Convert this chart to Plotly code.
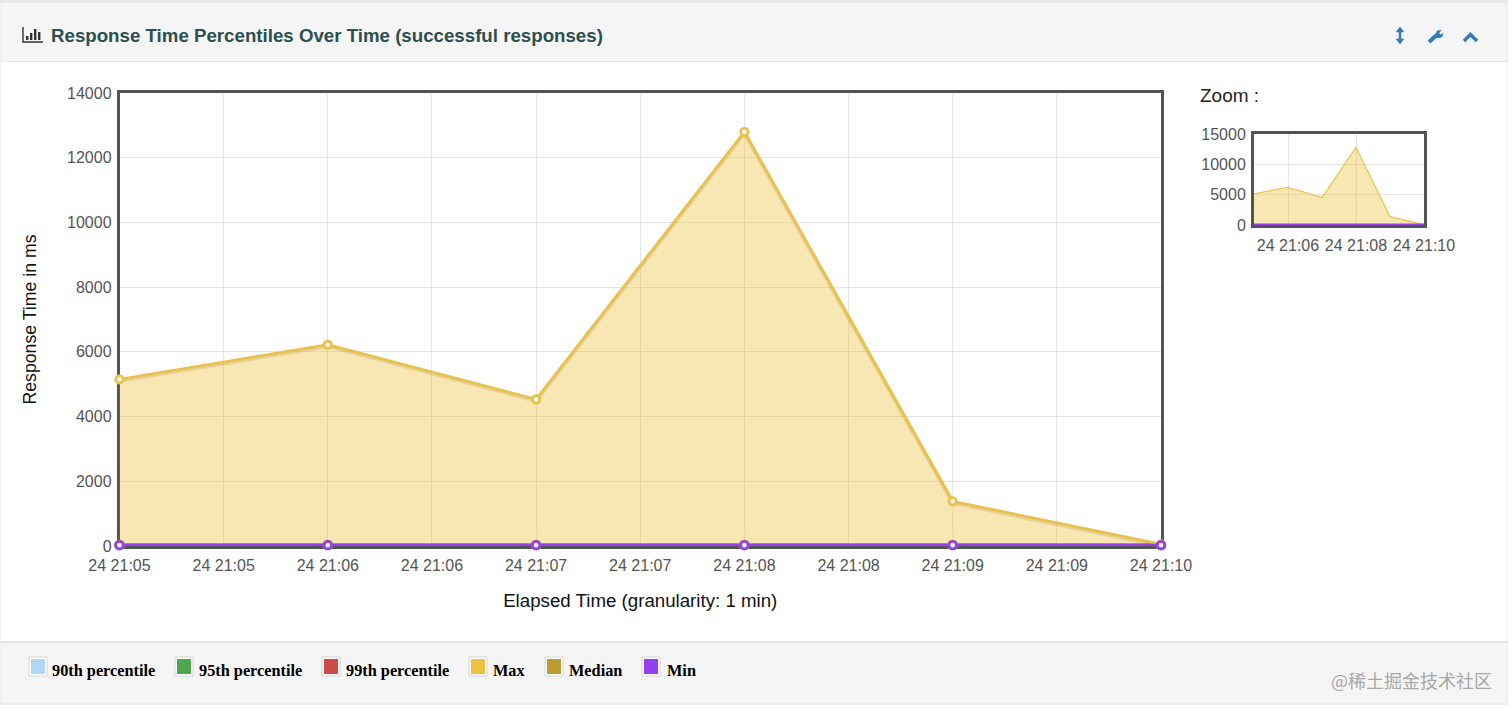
import plotly.graph_objects as go

W, H = 1512, 710

times = ["2020-01-24 21:05:00", "2020-01-24 21:06:00", "2020-01-24 21:07:00",
         "2020-01-24 21:08:00", "2020-01-24 21:09:00", "2020-01-24 21:10:00"]
p90 = [30, 32, 30, 31, 30, 28]
p95 = [32, 34, 32, 33, 32, 30]
p99 = [34, 36, 34, 35, 33, 32]
maximum = [5150, 6220, 4530, 12800, 1380, 50]
median = [28, 29, 28, 28, 28, 27]
minimum = [25, 25, 25, 25, 25, 25]

series_names = ["90th percentile", "95th percentile", "99th percentile", "Max", "Median", "Min"]
series_values = [p90, p95, p99, maximum, median, minimum]
series_colors = ["#afd8f8", "#4da74d", "#cb4b4b", "#e9c24e", "#bd9b33", "#9440ed"]
swatch_colors = ["#afd8f8", "#4da74d", "#cb4b4b", "#edc240", "#bd9b33", "#9440ed"]
series_fills = ["rgba(175,216,248,0.4)", "rgba(77,167,77,0.4)", "rgba(203,75,75,0.4)",
                "rgba(237,194,64,0.4)", "rgba(189,155,51,0.4)", "rgba(148,64,237,0.4)"]

main_tick_times = ["2020-01-24 21:05:00", "2020-01-24 21:05:30", "2020-01-24 21:06:00",
                   "2020-01-24 21:06:30", "2020-01-24 21:07:00", "2020-01-24 21:07:30",
                   "2020-01-24 21:08:00", "2020-01-24 21:08:30", "2020-01-24 21:09:00",
                   "2020-01-24 21:09:30", "2020-01-24 21:10:00"]
main_tick_text = ["24 21:05", "24 21:05", "24 21:06", "24 21:06", "24 21:07", "24 21:07",
                  "24 21:08", "24 21:08", "24 21:09", "24 21:09", "24 21:10"]
mini_tick_times = ["2020-01-24 21:06:00", "2020-01-24 21:08:00", "2020-01-24 21:10:00"]
mini_tick_text = ["24 21:06", "24 21:08", "24 21:10"]
main_y_ticks = [0, 2000, 4000, 6000, 8000, 10000, 12000, 14000]
mini_y_ticks = [0, 5000, 10000, 15000]

FONT = "Liberation Sans"
AXIS = "#545454"
GRID = "rgba(84,84,84,0.16)"


def px(x):
    return x / W


def py(y):
    return 1 - y / H


def rect(x0, y0, x1, y1, fill, line=None, width=1, layer="below"):
    return dict(type="rect", xref="paper", yref="paper", x0=px(x0), x1=px(x1), y0=py(y0), y1=py(y1),
                fillcolor=fill, line=dict(color=line or fill, width=width if line else 0), layer=layer)


def path(points, color, width=2, fill=None, close=False):
    d = "M " + " L ".join(f"{px(a):.5f},{py(b):.5f}" for a, b in points) + (" Z" if close else "")
    return dict(type="path", xref="paper", yref="paper", path=d,
                line=dict(color=color, width=width), fillcolor=fill or "rgba(0,0,0,0)", layer="above")


fig = go.Figure()

for name, vals, color, fill in zip(series_names, series_values, series_colors, series_fills):
    # soft shadow below each line, as the original library draws it
    fig.add_trace(go.Scatter(
        x=times, y=[v - 45 for v in vals], mode="lines", xaxis="x", yaxis="y",
        line=dict(color="rgba(0,0,0,0.13)", width=4), hoverinfo="skip", showlegend=False))
    fig.add_trace(go.Scatter(
        x=times, y=vals, name=name, mode="lines+markers", xaxis="x", yaxis="y",
        line=dict(color=color, width=3), fill="tozeroy", fillcolor=fill,
        marker=dict(size=7.5, color="rgba(255,255,255,0.9)", line=dict(color=color, width=2.8)),
        cliponaxis=False, showlegend=False))

for name, vals, color, fill in zip(series_names, series_values, series_colors, series_fills):
    fig.add_trace(go.Scatter(
        x=times, y=vals, name=name, mode="lines", xaxis="x2", yaxis="y2",
        line=dict(color=color, width=2.5 if name == "Min" else 1.2), fill="tozeroy", fillcolor=fill,
        hoverinfo="skip", showlegend=False))

shapes = [
    rect(0, 0, 1508, 704, "#ffffff", "#dddddd", 1),
    rect(1, 3, 1507, 61, "#f5f5f5"),
    rect(1, 642, 1507, 703, "#f5f5f5"),
    rect(1, 61, 1507, 62, "#e6e6e6"),
    rect(1, 641, 1507, 643, "#e3e3e3"),
    rect(0, 0, 1512, 3, "#e8e8e8"),
    rect(1508, 0, 1512, 710, "#ffffff"),
]

# Header chart icon
shapes.append(path([(23, 27), (23, 42), (43, 42)], "#333333", 1.4))
for bx, top in [(26, 36), (30, 33), (34, 29), (38, 32)]:
    shapes.append(rect(bx, top, bx + 2.4, 40, "#333333", layer="above"))

# Header tool icons
BLUE = "#337ab7"
shapes.append(path([(1400, 31), (1400, 41)], BLUE, 2.5))
shapes.append(path([(1396, 32), (1400, 27), (1404, 32)], BLUE, 0.5, BLUE, True))
shapes.append(path([(1396, 39), (1400, 44), (1404, 39)], BLUE, 0.5, BLUE, True))
shapes.append(path([(1429, 42), (1438, 34)], BLUE, 4))
shapes.append(path([(1436, 36), (1437, 31), (1441, 30), (1439, 33), (1441, 35), (1443, 33), (1442, 37), (1438, 38)],
                   BLUE, 0.5, BLUE, True))
shapes.append(path([(1464, 41), (1470.5, 34.5), (1477, 41)], BLUE, 3.4))

annotations = [
    dict(text="Zoom :", x=px(1198), y=py(95.5), xref="paper", yref="paper", xanchor="left", yanchor="middle",
         showarrow=False, font=dict(family=FONT, size=19, color="#222222")),
    dict(text="@稀土掘金技术社区", x=px(1329), y=py(680), xref="paper", yref="paper", xanchor="left",
         yanchor="middle", showarrow=False, font=dict(family="Noto Sans CJK SC", size=18, color="#a8a8a8")),
]

# Legend row
swatch_left = [29, 175, 322, 469, 545, 642]
label_left = [50, 197, 344, 491, 567, 665]
for name, color, sx, lx in zip(series_names, swatch_colors, swatch_left, label_left):
    shapes.append(rect(sx, 657, sx + 18, 676, "#ffffff", "#d4d4d4", 1))
    shapes.append(rect(sx + 2, 659, sx + 16, 674, color))
    annotations.append(dict(text=f"<b>{name}</b>", x=px(lx), y=py(670), xref="paper", yref="paper",
                            xanchor="left", yanchor="middle", showarrow=False,
                            font=dict(family="Liberation Serif", size=16.3, color="#000000")))

fig.update_layout(
    width=W, height=H, margin=dict(l=0, r=0, t=0, b=0, autoexpand=False),
    paper_bgcolor="#ffffff", plot_bgcolor="rgba(0,0,0,0)",
    font=dict(family=FONT, size=16, color=AXIS),
    title=dict(text="<b>Response Time Percentiles Over Time (successful responses)</b>",
               x=px(51), xanchor="left", xref="paper", y=py(35), yanchor="middle", yref="paper",
               automargin=False, font=dict(family=FONT, size=18.7, color="#2c4f4f")),
    shapes=shapes, annotations=annotations, showlegend=False,
    xaxis=dict(type="date", domain=[px(119.5), px(1161)], range=[times[0], times[-1]], automargin=False,
               tickmode="array", tickvals=main_tick_times, ticktext=main_tick_text, tickangle=0,
               ticklabelstandoff=3, layer="below traces",
               showgrid=True, gridcolor=GRID, gridwidth=1, zeroline=False,
               showline=True, linecolor=AXIS, linewidth=2.5, mirror=True, ticks="",
               title=dict(text="Elapsed Time (granularity: 1 min)", standoff=21,
                          font=dict(family=FONT, size=18.7, color="#111111"))),
    yaxis=dict(domain=[py(546), py(93)], range=[0, 14000], tickmode="array", tickvals=main_y_ticks,
               tickformat="d", automargin=False, ticklabelstandoff=2, layer="below traces",
               showgrid=True, gridcolor=GRID, gridwidth=1, zeroline=False,
               showline=True, linecolor=AXIS, linewidth=2.5, mirror=True, ticks="",
               title=dict(text="Response Time in ms", standoff=26,
                          font=dict(family=FONT, size=17.7, color="#111111"))),
    xaxis2=dict(type="date", domain=[px(1254), px(1424)], range=[times[0], times[-1]], anchor="y2",
                automargin=False, ticklabelstandoff=4,
                tickmode="array", tickvals=mini_tick_times, ticktext=mini_tick_text, tickangle=0,
                showgrid=True, gridcolor=GRID, zeroline=False,
                showline=True, linecolor=AXIS, linewidth=3, mirror=True, ticks=""),
    yaxis2=dict(domain=[py(225), py(134)], range=[0, 15000], anchor="x2", tickmode="array",
                tickvals=mini_y_ticks, tickformat="d", automargin=False, ticklabelstandoff=2,
                showgrid=True, gridcolor=GRID, zeroline=False,
                showline=True, linecolor=AXIS, linewidth=3, mirror=True, ticks=""),
)

fig.write_html("out.html", config={"displayModeBar": False},
               post_script="document.body.style.margin='0';document.documentElement.style.overflow='hidden';")
